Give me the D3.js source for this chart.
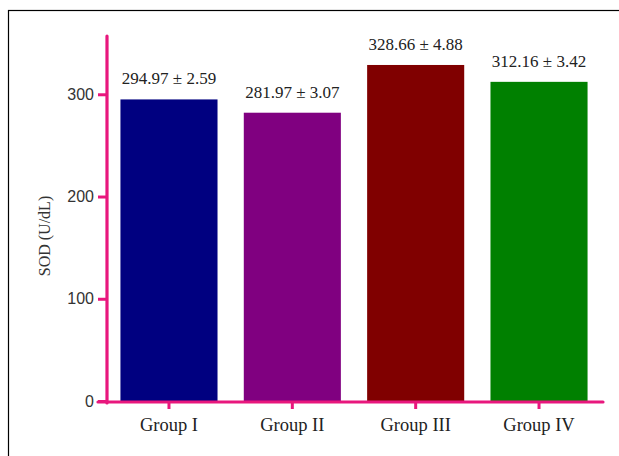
<!DOCTYPE html>
<html><head><meta charset="utf-8">
<script src="https://cdn.jsdelivr.net/npm/d3@7"></script>
<style>html,body{margin:0;padding:0;background:#fff;}svg{display:block;}</style>
</head><body>
<svg id="chart" width="619" height="456"></svg>
<script>
const categories = ["Group I", "Group II", "Group III", "Group IV"];
const values = [294.97, 281.97, 328.66, 312.16];
const errors = [2.59, 3.07, 4.88, 3.42];
const colors = ["#000080", "#800080", "#800000", "#008000"];
const yTicks = [0, 100, 200, 300];
const yLabel = "SOD (U/dL)";

const svg = d3.select("#chart");
const axisColor = "#e8177d";

// outer frame
svg.append("rect").attr("x", 8.5).attr("y", 10.5).attr("width", 620).attr("height", 460)
  .attr("fill", "none").attr("stroke", "#000").attr("stroke-width", 1.2);

const x0 = 107, y0 = 401;
const y = d3.scaleLinear().domain([0, 357]).range([y0, 36]);
const x = d3.scaleBand().domain(categories).range([x0, 601]).paddingInner(0.213).paddingOuter(0.109);

// bars
svg.selectAll("rect.bar").data(categories).enter().append("rect")
  .attr("class", "bar")
  .attr("x", d => x(d))
  .attr("width", x.bandwidth())
  .attr("y", (d, i) => y(values[i]))
  .attr("height", (d, i) => y0 - y(values[i]))
  .attr("fill", (d, i) => colors[i]);

// value labels
svg.selectAll("text.val").data(categories).enter().append("text")
  .attr("class", "val")
  .attr("x", d => x(d) + x.bandwidth() / 2)
  .attr("y", (d, i) => y(values[i]) - 15)
  .attr("text-anchor", "middle")
  .attr("font-family", "'Liberation Serif', 'Times New Roman', serif")
  .attr("font-size", 17)
  .attr("fill", "#222")
  .text((d, i) => values[i].toFixed(2) + " \u00b1 " + errors[i].toFixed(2));

// y axis
const yAxis = svg.append("g").attr("transform", `translate(${x0},0)`)
  .call(d3.axisLeft(y).tickValues(yTicks).tickSize(9).tickPadding(4));
yAxis.select(".domain").remove();
yAxis.append("line").attr("x1", 0).attr("x2", 0).attr("y1", 36).attr("y2", y0 + 2)
  .attr("stroke", axisColor).attr("stroke-width", 3.2).attr("stroke-linecap", "round");
yAxis.selectAll(".tick line").attr("stroke", axisColor).attr("stroke-width", 3);
yAxis.selectAll(".tick text").attr("font-family", "'Liberation Sans', Arial, sans-serif")
  .attr("font-size", 16).attr("fill", "#333");

// x axis
const xAxis = svg.append("g").attr("transform", `translate(0,${y0 + 1})`)
  .call(d3.axisBottom(x).tickSize(7).tickPadding(9));
xAxis.select(".domain").remove();
xAxis.insert("line", ":first-child").attr("x1", 98).attr("x2", 603).attr("y1", 0).attr("y2", 0)
  .attr("stroke", axisColor).attr("stroke-width", 3.2).attr("stroke-linecap", "round");
xAxis.selectAll(".tick line").attr("stroke", axisColor).attr("stroke-width", 3);
xAxis.selectAll(".tick text").attr("font-family", "'Liberation Serif', 'Times New Roman', serif")
  .attr("font-size", 18.5).attr("fill", "#222");

// y label
svg.append("text")
  .attr("transform", "translate(50,236) rotate(-90)")
  .attr("text-anchor", "middle")
  .attr("font-family", "'Liberation Serif', 'Times New Roman', serif")
  .attr("font-size", 16)
  .attr("fill", "#333")
  .text(yLabel);
</script>
</body></html>
